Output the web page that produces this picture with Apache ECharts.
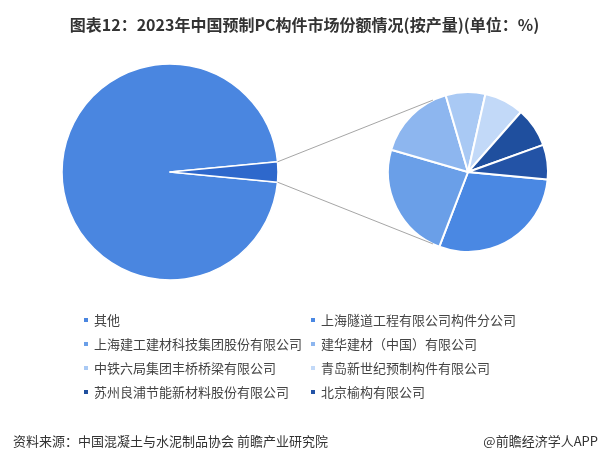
<!DOCTYPE html>
<html>
<head>
<meta charset="utf-8">
<script src="https://cdn.jsdelivr.net/npm/echarts@6/dist/echarts.min.js"></script>
<style>
html,body{margin:0;padding:0;background:#fff;}
#main{width:609px;height:459px;}
</style>
</head>
<body>
<div id="main"></div>
<script>
// ---- data ----
const otherName = '其他';
const otherValue = 97.0;
const companies = [
  '上海隧道工程有限公司构件分公司',
  '上海建工建材科技集团股份有限公司',
  '建华建材（中国）有限公司',
  '中铁六局集团丰桥桥梁有限公司',
  '青岛新世纪预制构件有限公司',
  '苏州良浦节能新材料股份有限公司',
  '北京榆构有限公司'
];
const companyValues = [0.88, 0.71, 0.48, 0.24, 0.24, 0.24, 0.21];
const companyColors = ['#4a88e3', '#6a9fe8', '#8db6ef', '#a9c9f4', '#c2d9f8', '#1f4f9e', '#2353a6'];
const otherColor = '#4a86e0';
const groupColor = '#2e68cc';
const groupName = '七家企业合计';
const titleText = '图表12：2023年中国预制PC构件市场份额情况(按产量)(单位：%)';
const sourceText = '资料来源：中国混凝土与水泥制品协会 前瞻产业研究院';
const brandText = '@前瞻经济学人APP';

// ---- layout ----
const L = {cx: 170, cy: 172, r: 108};
const R = {cx: 468, cy: 172, r: 80};

const groupValue = companyValues.reduce((a, b) => a + b, 0);
const half = groupValue / (groupValue + otherValue) * 360 / 2;
const startAngle = 360 - half;
const rad = d => d * Math.PI / 180;
const pTop = [L.cx + L.r * Math.cos(rad(half)), L.cy - L.r * Math.sin(rad(half))];
const pBot = [L.cx + L.r * Math.cos(rad(half)), L.cy + L.r * Math.sin(rad(half))];
const endAng = 116;
const eTop = [R.cx + R.r * Math.cos(rad(endAng)), R.cy - R.r * Math.sin(rad(endAng))];
const eBot = [R.cx + R.r * Math.cos(rad(endAng)), R.cy + R.r * Math.sin(rad(endAng))];

const leftCol = [otherName, companies[1], companies[3], companies[5]];
const rightCol = [companies[0], companies[2], companies[4], companies[6]];

const font = '"Noto Sans CJK SC", "Noto Sans", sans-serif';
const legendBase = {
  orient: 'vertical',
  top: 312,
  itemWidth: 6,
  itemHeight: 6,
  itemGap: 8,
  icon: 'rect',
  padding: 0,
  selectedMode: false,
  textStyle: {fontSize: 13, color: '#444', fontFamily: font, lineHeight: 16}
};

const chart = echarts.init(document.getElementById('main'));
chart.setOption({
  backgroundColor: '#fff',
  animation: false,
  title: [
    {text: titleText, left: 'center', top: 12,
     textStyle: {fontSize: 16, fontWeight: 'bold', color: '#333', fontFamily: font}},
    {text: sourceText, left: 8, top: 430,
     textStyle: {fontSize: 13, fontWeight: 'normal', color: '#333', fontFamily: font}},
    {text: brandText, right: 6, top: 430,
     textStyle: {fontSize: 13, fontWeight: 'normal', color: '#333', fontFamily: font}}
  ],
  legend: [
    Object.assign({}, legendBase, {left: 82, data: leftCol}),
    Object.assign({}, legendBase, {left: 309, data: rightCol})
  ],
  series: [
    {
      type: 'pie',
      center: [L.cx, L.cy],
      radius: [0, L.r],
      startAngle: startAngle,
      label: {show: false},
      labelLine: {show: false},
      silent: true,
      itemStyle: {borderColor: '#fff', borderWidth: 1.5},
      data: [
        {name: otherName, value: otherValue, itemStyle: {color: otherColor}},
        {name: groupName, value: groupValue, itemStyle: {color: groupColor}}
      ]
    },
    {
      type: 'pie',
      center: [R.cx, R.cy],
      radius: [0, R.r],
      startAngle: startAngle,
      label: {show: false},
      labelLine: {show: false},
      silent: true,
      itemStyle: {borderColor: '#fff', borderWidth: 2},
      data: companies.map((n, i) => ({name: n, value: companyValues[i], itemStyle: {color: companyColors[i]}}))
    }
  ],
  graphic: [
    {type: 'line', z: 10, silent: true,
     shape: {x1: pTop[0], y1: pTop[1], x2: eTop[0], y2: eTop[1]},
     style: {stroke: '#a6a6a6', lineWidth: 1}},
    {type: 'line', z: 10, silent: true,
     shape: {x1: pBot[0], y1: pBot[1], x2: eBot[0], y2: eBot[1]},
     style: {stroke: '#a6a6a6', lineWidth: 1}}
  ]
});
</script>
</body>
</html>
